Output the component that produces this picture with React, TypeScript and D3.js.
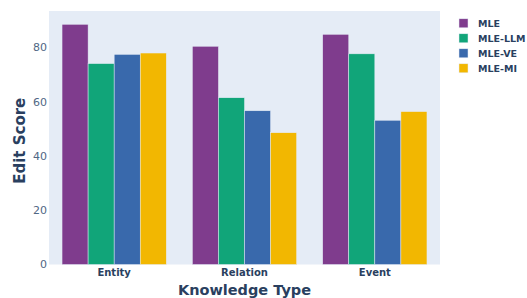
import React from "react";
import * as d3 from "d3";

const categories = ["Entity", "Relation", "Event"];
const seriesNames = ["MLE", "MLE-LLM", "MLE-VE", "MLE-MI"];
const seriesColors = ["#7f3c8d", "#11a579", "#3969ac", "#f2b701"];
const mleValues = [88.6, 80.5, 84.9];
const mleLlmValues = [74.1, 61.5, 77.7];
const mleVeValues = [77.5, 56.7, 53.2];
const mleMiValues = [78.0, 48.6, 56.4];
const yTicks = [0, 20, 40, 60, 80];

const seriesValues = [mleValues, mleLlmValues, mleVeValues, mleMiValues];

const W = 527;
const H = 298;
const plot = { left: 49, right: 440, top: 11, bottom: 264.5 };
const font = "'DejaVu Sans', Verdana, sans-serif";

export default function App() {
  const x = d3
    .scaleBand<string>()
    .domain(categories)
    .range([plot.left, plot.right])
    .paddingInner(0.2)
    .paddingOuter(0.1);
  const xs = d3
    .scaleBand<string>()
    .domain(seriesNames)
    .range([0, x.bandwidth()]);
  const y = d3.scaleLinear().domain([0, 93.5]).range([plot.bottom, plot.top]);

  return (
    <svg
      width={W}
      height={H}
      style={{ position: "absolute", left: 0, top: 0, fontFamily: font }}
    >
      <rect x={0} y={0} width={W} height={H} fill="#fff" />
      <rect
        x={plot.left}
        y={plot.top}
        width={plot.right - plot.left}
        height={plot.bottom - plot.top}
        fill="#e5ecf6"
      />
      {seriesNames.map((s, si) =>
        categories.map((c, ci) => {
          const v = seriesValues[si][ci];
          return (
            <rect
              key={s + c}
              x={(x(c) as number) + (xs(s) as number)}
              y={y(v)}
              width={xs.bandwidth()}
              height={y(0) - y(v)}
              fill={seriesColors[si]}
              stroke="#e5ecf6"
              strokeWidth={0.5}
            />
          );
        })
      )}
      {yTicks.map((t) => (
        <text
          key={t}
          x={plot.left - 2}
          y={y(t)}
          dy="0.35em"
          textAnchor="end"
          fontSize={11}
          fill="#506784"
        >
          {t}
        </text>
      ))}
      {categories.map((c) => (
        <text
          key={c}
          x={(x(c) as number) + x.bandwidth() / 2}
          y={275.5}
          textAnchor="middle"
          fontSize={10}
          fontWeight="bold"
          fill="#2a3f5f"
        >
          {c}
        </text>
      ))}
      <text
        x={(plot.left + plot.right) / 2}
        y={295}
        textAnchor="middle"
        fontSize={14.5}
        fontWeight="bold"
        fill="#2a3f5f"
      >
        Knowledge Type
      </text>
      <text
        transform={`translate(25, ${(plot.top + plot.bottom) / 2 + 3}) rotate(-90)`}
        textAnchor="middle"
        fontSize={15}
        fontWeight="bold"
        fill="#2a3f5f"
      >
        Edit Score
      </text>
      {seriesNames.map((s, i) => (
        <g key={s} transform={`translate(459, ${23.3 + i * 15})`}>
          <rect
            x={0}
            y={-4.5}
            width={9}
            height={9}
            fill={seriesColors[i]}
            stroke="#e5ecf6"
            strokeWidth={0.5}
          />
          <text
            x={19}
            y={0}
            dy="0.35em"
            fontSize={9.5}
            fontWeight="bold"
            fill="#2a3f5f"
          >
            {s}
          </text>
        </g>
      ))}
    </svg>
  );
}
